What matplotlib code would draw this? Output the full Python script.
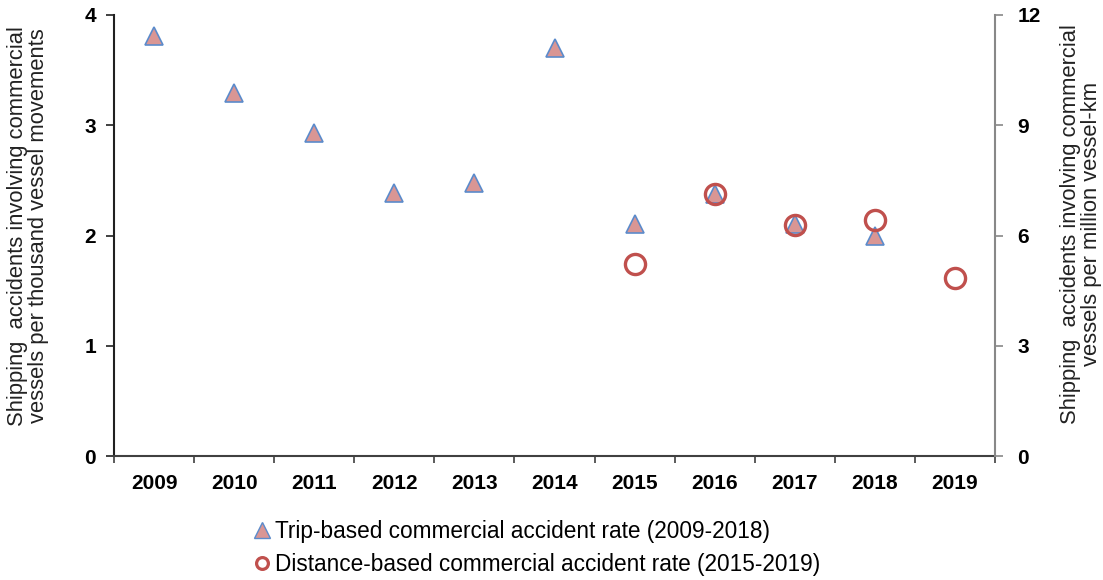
import matplotlib
matplotlib.use("Agg")
import matplotlib.pyplot as plt
from matplotlib.lines import Line2D

years = ["2009", "2010", "2011", "2012", "2013", "2014", "2015", "2016", "2017", "2018", "2019"]
trip_years = ["2009", "2010", "2011", "2012", "2013", "2014", "2015", "2016", "2017", "2018"]
trip_rate = [3.81, 3.29, 2.93, 2.39, 2.48, 3.70, 2.10, 2.38, 2.10, 2.00]
dist_years = ["2015", "2016", "2017", "2018", "2019"]
dist_rate = [5.22, 7.12, 6.29, 6.42, 4.84]

left_ticks = [0, 1, 2, 3, 4]
right_ticks = [0, 3, 6, 9, 12]
ylabel_left = "Shipping  accidents involving commercial\nvessels per thousand vessel movements"
ylabel_right = "Shipping  accidents involving commercial\nvessels per million vessel-km"
legend_labels = ["Trip-based commercial accident rate (2009-2018)",
                 "Distance-based commercial accident rate (2015-2019)"]

plt.rcParams['font.family'] = ['Liberation Sans', 'DejaVu Sans']

W, H = 1103, 580
fig = plt.figure(figsize=(W/100, H/100), dpi=100)
ax = fig.add_axes([114/W, 1-456/H, (995-114)/W, (456-15)/H])
ax2 = ax.twinx()

xpos = {y: i for i, y in enumerate(years)}
tri_fill = "#D99694"
tri_edge = "#5B8BCB"
circ_edge = "#C0504D"

ax.plot([xpos[y] for y in trip_years], trip_rate, linestyle="none", marker="^",
        markersize=13.5, markerfacecolor=tri_fill, markeredgecolor=tri_edge,
        markeredgewidth=1.2, zorder=3)
ax2.plot([xpos[y] for y in dist_years], dist_rate, linestyle="none", marker="o",
         markersize=14.5, markerfacecolor="none", markeredgecolor=circ_edge,
         markeredgewidth=2.4, zorder=4)

ax.set_xlim(-0.5, len(years) - 0.5)
ax.set_ylim(0, 4)
ax2.set_ylim(0, 12)
ax.set_yticks(left_ticks)
ax2.set_yticks(right_ticks)
ax.set_xticks(range(len(years)))
ax.set_xticklabels(years)
ax.set_xticks([i - 0.5 for i in range(len(years) + 1)], minor=True)
ax.tick_params(axis="x", which="major", length=0, pad=13, labelsize=15)
ax.tick_params(axis="x", which="minor", length=5, width=1.2, color="#404040", direction="out")
ax.tick_params(axis="y", length=6, width=1.2, color="#202020", labelsize=15, pad=7)
ax2.tick_params(axis="y", length=6, width=1.2, color="#888888", labelsize=15, pad=10)
for lab in ax.get_xticklabels() + ax.get_yticklabels() + ax2.get_yticklabels():
    lab.set_fontweight("bold")

for a in (ax, ax2):
    a.spines["top"].set_visible(False)
ax.spines["left"].set_color("#202020")
ax.spines["left"].set_linewidth(1.5)
ax.spines["bottom"].set_color("#404040")
ax.spines["bottom"].set_linewidth(1.5)
ax2.spines["right"].set_color("#888888")
ax2.spines["right"].set_linewidth(1.5)
ax2.spines["left"].set_visible(False)
ax2.spines["bottom"].set_visible(False)
ax.spines["right"].set_visible(False)

ax.set_ylabel(ylabel_left, fontsize=15.8, color="#222222", linespacing=1.0)
ax2.set_ylabel(ylabel_right, fontsize=15.8, color="#222222", linespacing=1.0)
ax_w = 995 - 114
ax_h = 456 - 15
ax.yaxis.set_label_coords((28 - 114) / ax_w, (456 - 226) / ax_h)
ax2.yaxis.set_label_coords((1081 - 114) / ax_w, (456 - 224) / ax_h)
ax.yaxis.label.set_verticalalignment("center")
ax2.yaxis.label.set_verticalalignment("center")

handles = [
    Line2D([], [], linestyle="none", marker="^", markersize=11, markerfacecolor=tri_fill,
           markeredgecolor=tri_edge, markeredgewidth=1.0),
    Line2D([], [], linestyle="none", marker="o", markersize=8.5, markerfacecolor="none",
           markeredgecolor=circ_edge, markeredgewidth=2.3),
]
fig.legend(handles, legend_labels, loc="center left", bbox_to_anchor=(255/W, 1-548/H),
           frameon=False, fontsize=16.3, handlelength=0.6, handletextpad=0.27,
           labelspacing=0.45, borderpad=0, borderaxespad=0)

fig.savefig("out.png", dpi=100)
